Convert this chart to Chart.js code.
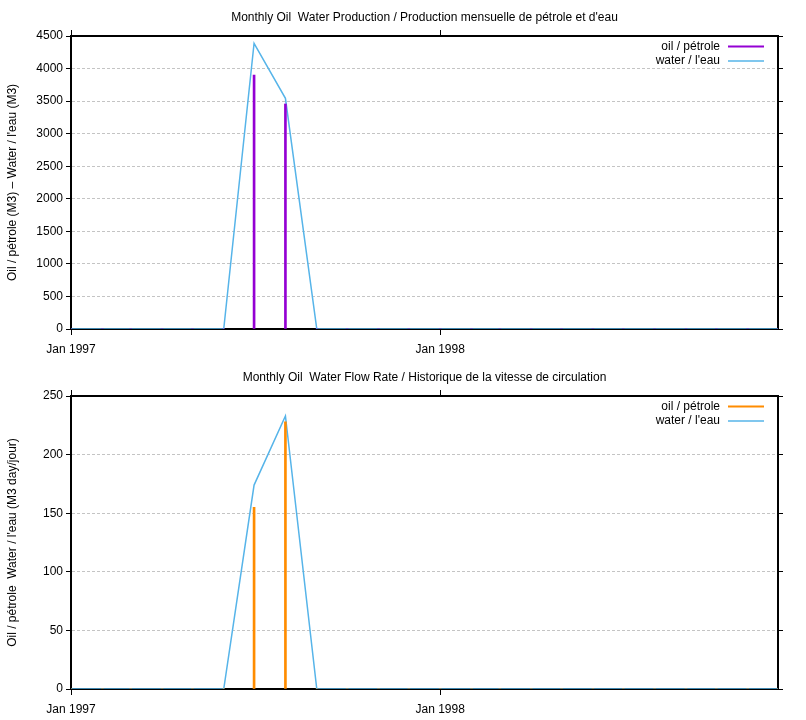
<!DOCTYPE html>
<html>
<head>
<meta charset="utf-8">
<script src="https://cdn.jsdelivr.net/npm/chart.js@4/dist/chart.umd.min.js"></script>
<style>
  body { margin: 0; background: #fff; }
  canvas { display: block; }
</style>
</head>
<body>
<canvas id="prod" width="806" height="360"></canvas>
<canvas id="rate" width="806" height="360"></canvas>
<script>
// monthly data, Jan 1997 .. Dec 1998
const months = [
  '1997-01', '1997-02', '1997-03', '1997-04', '1997-05', '1997-06',
  '1997-07', '1997-08', '1997-09', '1997-10', '1997-11', '1997-12',
  '1998-01', '1998-02', '1998-03', '1998-04', '1998-05', '1998-06',
  '1998-07', '1998-08', '1998-09', '1998-10', '1998-11', '1998-12'
];
const oilProd   = [0, 0, 0, 0, 0, 0, 3900, 3456, 0, 0, 0, 0, 0, 0, 0, 0, 0, 0, 0, 0, 0, 0, 0, 0];
const waterProd = [0, 0, 0, 0, 0, 0, 4388, 3543, 0, 0, 0, 0, 0, 0, 0, 0, 0, 0, 0, 0, 0, 0, 0, 0];
const oilRate   = [0, 0, 0, 0, 0, 0, 155, 228, 0, 0, 0, 0, 0, 0, 0, 0, 0, 0, 0, 0, 0, 0, 0, 0];
const waterRate = [0, 0, 0, 0, 0, 0, 174, 233, 0, 0, 0, 0, 0, 0, 0, 0, 0, 0, 0, 0, 0, 0, 0, 0];

const xTickMonths = ['1997-01', '1998-01'];
const xTickLabels = ['Jan 1997', 'Jan 1998'];

const FONT = "'Liberation Sans', Arial, sans-serif";

// days since 1 Jan 1997
const toDay = (m) => {
  const [y, mo] = m.split('-').map(Number);
  return (Date.UTC(y, mo - 1, 1) - Date.UTC(1997, 0, 1)) / 864e5;
};
const xMin = toDay(months[0]);
const xMax = toDay(months[months.length - 1]);
const xTicks = xTickMonths.map(toDay);

const series = (vals) => months.map((m, i) => ({ x: toDay(m), y: vals[i] }));

// gnuplot-like title, y label and key
const decorPlugin = {
  id: 'decor',
  afterDraw(chart, args, opts) {
    const { ctx, chartArea } = chart;
    ctx.save();
    ctx.fillStyle = '#000';
    ctx.font = '12px ' + FONT;
    ctx.textAlign = 'center';
    ctx.textBaseline = 'middle';
    ctx.fillText(opts.title, (chartArea.left + chartArea.right) / 2, 17.5);

    ctx.save();
    ctx.translate(13, (chartArea.top + chartArea.bottom) / 2);
    ctx.rotate(-Math.PI / 2);
    ctx.fillText(opts.yLabel, 0, 0);
    ctx.restore();

    ctx.textAlign = 'right';
    chart.data.datasets.forEach((ds, i) => {
      const y = chartArea.top + 10.5 + i * 14.5;
      ctx.fillStyle = '#000';
      ctx.fillText(ds.label, chartArea.right - 58, y);
      ctx.strokeStyle = ds.borderColor;
      ctx.lineWidth = ds.type === 'bar' ? 2 : 1.5;
      ctx.beginPath();
      ctx.moveTo(chartArea.right - 50, y);
      ctx.lineTo(chartArea.right - 14, y);
      ctx.stroke();
    });
    ctx.restore();
  }
};

function makeChart(id, oil, water, oilColor, yMax, yStep, title, yLabel) {
  const hideEnds = (c) => (c.tick && (c.tick.value === 0 || c.tick.value === yMax)) ? 'rgba(0,0,0,0)' : '#c4c4c4';
  const xAxis = (pos, h, showLabels) => ({
    type: 'linear',
    position: pos,
    min: xMin,
    max: xMax,
    offset: false,
    afterBuildTicks: (s) => { s.ticks = xTicks.map(v => ({ value: v })); },
    afterFit: (s) => { s.height = h; },
    grid: { offset: false, drawOnChartArea: false, tickLength: 6, tickColor: '#000', tickWidth: 1 },
    border: { color: '#000', width: 2 },
    ticks: {
      display: showLabels,
      color: '#000',
      padding: 7,
      maxRotation: 0,
      font: { family: FONT, size: 12 },
      callback: (v) => xTickLabels[xTicks.indexOf(v)] ?? ''
    }
  });
  const yAxis = (pos, w, showLabels) => ({
    type: 'linear',
    position: pos,
    min: 0,
    max: yMax,
    afterFit: (s) => { s.width = w; },
    grid: { drawOnChartArea: showLabels, color: hideEnds, tickLength: 5, tickColor: '#000', tickWidth: 1 },
    border: { color: '#000', width: 2, dash: [3, 2] },
    ticks: {
      display: showLabels,
      stepSize: yStep,
      color: '#000',
      padding: 3,
      font: { family: FONT, size: 12 },
      callback: (v) => String(v)
    }
  });

  return new Chart(document.getElementById(id), {
    data: {
      datasets: [
        {
          type: 'bar',
          label: 'oil / pétrole',
          data: series(oil),
          backgroundColor: oilColor,
          borderColor: oilColor,
          barThickness: 2,
          xAxisID: 'x',
          yAxisID: 'y'
        },
        {
          type: 'line',
          label: 'water / l\'eau',
          data: series(water),
          borderColor: '#56b4e9',
          borderWidth: 1.5,
          pointRadius: 0,
          tension: 0,
          xAxisID: 'x',
          yAxisID: 'y'
        }
      ]
    },
    options: {
      responsive: false,
      animation: false,
      layout: { padding: { top: 30, right: 20, bottom: 0, left: 0 } },
      plugins: {
        legend: { display: false },
        tooltip: { enabled: false },
        decor: { title, yLabel }
      },
      scales: {
        x: xAxis('bottom', 31, true),
        x2: xAxis('top', 6, false),
        y: yAxis('left', 71, true),
        y2: yAxis('right', 8, false)
      }
    },
    plugins: [decorPlugin]
  });
}

makeChart('prod', oilProd, waterProd, '#9400d3', 4500, 500,
  'Monthly Oil  Water Production / Production mensuelle de pétrole et d\'eau',
  'Oil / pétrole (M3) \u2013 Water / l\'eau (M3)');

makeChart('rate', oilRate, waterRate, '#ff8c00', 250, 50,
  'Monthly Oil  Water Flow Rate / Historique de la vitesse de circulation',
  'Oil / pétrole  Water / l\'eau (M3 day/jour)');
</script>
</body>
</html>
